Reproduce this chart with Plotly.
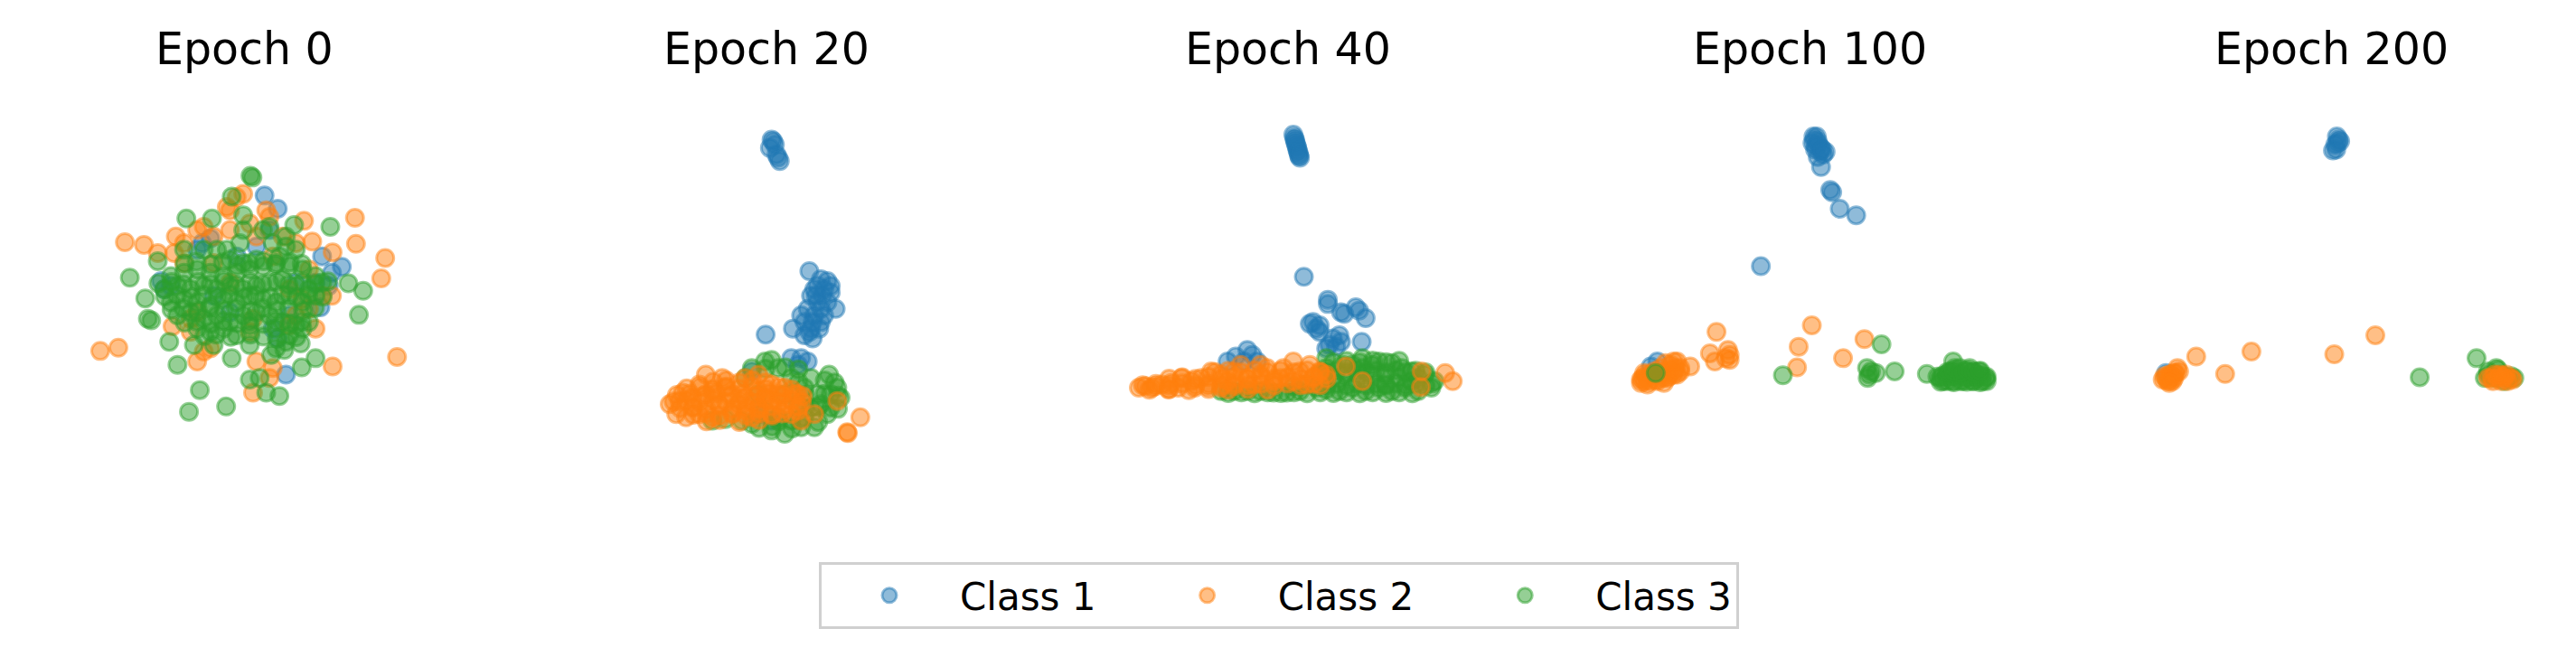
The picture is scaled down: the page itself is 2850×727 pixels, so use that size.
import plotly.graph_objects as go

epochs = [0, 20, 40, 100, 200]
class_names = ["Class 1", "Class 2", "Class 3"]
class_rgb = ["31,119,180", "255,127,14", "44,160,44"]

# 2-D embedding of the samples at each epoch, (x, y) with y pointing down

# ---- Epoch 0 ----
e0_c1 = [(805, 595), (845, 635), (640, 725), (615, 740), (1040, 812), (1010, 830), (490, 855), (500, 880),
         (975, 935), (870, 1140), (845, 1030), (880, 960), (600, 760), (980, 780), (720, 780), (780, 750),
         (520, 870), (650, 900), (820, 700), (900, 860), (960, 860), (700, 950), (1000, 870), (830, 1000)]
e0_c2 = [(380, 737), (438, 745), (305, 1068), (360, 1058), (1080, 663), (1083, 742), (1172, 785), (1160, 847),
         (1208, 1086), (1012, 1115), (950, 735), (1012, 768), (925, 672), (535, 720), (770, 1195), (830, 1120),
         (620, 1070), (525, 993), (600, 700), (740, 590), (690, 630), (810, 640), (960, 1000), (1010, 900),
         (920, 910), (580, 970), (770, 970), (480, 770), (700, 860), (880, 880), (650, 800), (560, 800),
         (830, 780), (760, 1010), (600, 950), (880, 990), (820, 660), (720, 600), (700, 640), (980, 900),
         (940, 820), (650, 720), (700, 700), (760, 680), (780, 720), (860, 720), (900, 740), (620, 690),
         (560, 740), (530, 770), (900, 960), (940, 940), (580, 1010), (640, 1060), (600, 1100), (780, 1100),
         (820, 1150)]
e0_c3 = [(762, 535), (768, 540), (705, 598), (567, 665), (645, 665), (740, 655), (895, 685), (1005, 690),
         (395, 845), (442, 908), (450, 970), (460, 975), (1092, 958), (1105, 885), (1060, 862), (515, 1040),
         (540, 1110), (608, 1187), (575, 1253), (688, 1237), (760, 1155), (790, 1150), (810, 1195), (850, 1205),
         (918, 1118), (960, 1090), (825, 1080), (705, 1090), (760, 1050), (650, 1050), (590, 1050), (915, 1045),
         (865, 1065), (480, 795), (800, 700), (820, 690), (870, 720), (900, 760), (560, 760), (620, 760),
         (660, 760), (730, 740), (740, 700),
         (520, 840), (560, 830), (600, 820), (640, 830), (680, 840), (720, 830), (760, 820), (800, 810),
         (840, 800), (880, 810), (920, 820), (960, 840),
         (500, 880), (540, 870), (580, 880), (620, 870), (660, 880), (700, 870), (740, 880), (780, 870),
         (820, 860), (860, 850), (900, 870), (940, 880), (980, 860),
         (520, 920), (560, 910), (600, 920), (640, 930), (680, 910), (720, 920), (760, 900), (800, 910),
         (840, 920), (880, 900), (920, 920), (960, 900),
         (540, 960), (580, 950), (620, 970), (660, 960), (700, 980), (740, 960), (780, 950), (820, 960),
         (860, 980), (900, 990), (940, 980),
         (600, 1000), (640, 1010), (680, 1000), (720, 1020), (760, 990), (840, 1000), (880, 1020), (920, 1000),
         (870, 1040), (840, 1060), (700, 790), (740, 800), (690, 760), (780, 790), (850, 780), (870, 750),
         (830, 740),
         (562, 802), (598, 796), (642, 805), (678, 798), (722, 808), (758, 801), (802, 795), (838, 806),
         (882, 798), (918, 803),
         (482, 862), (522, 858), (558, 865), (603, 857), (641, 864), (682, 856), (718, 866), (762, 858),
         (798, 864), (842, 857), (878, 866), (922, 858), (958, 864), (998, 856),
         (502, 902), (538, 898), (582, 905), (618, 897), (662, 904), (698, 896), (742, 905), (778, 898),
         (822, 904), (858, 897), (902, 905), (938, 898), (982, 903),
         (522, 942), (558, 938), (602, 945), (638, 937), (682, 944), (718, 938), (762, 946), (798, 937),
         (842, 944), (878, 938), (922, 945), (958, 937),
         (562, 982), (598, 978), (642, 985), (678, 977), (722, 984), (758, 978), (802, 986), (838, 977),
         (882, 984), (918, 978),
         (622, 1022), (658, 1018), (702, 1025), (762, 1018), (802, 1024), (842, 1030), (902, 1026)]

# ---- Epoch 20 ----
e20_c1 = [(780, 425), (790, 440), (775, 450), (800, 480), (805, 490), (795, 470), (785, 430),
          (895, 825), (930, 850), (950, 855), (910, 880), (900, 900), (935, 900), (960, 890), (920, 920),
          (975, 940), (890, 940), (910, 960), (940, 960), (880, 980), (900, 1000), (845, 1000), (880, 1020),
          (905, 1030), (762, 1018), (930, 980), (950, 920), (870, 960), (960, 870),
          (920, 870), (940, 880), (915, 900), (930, 940), (905, 980), (895, 1010), (925, 1000),
          (840, 1090), (870, 1090), (890, 1100), (860, 1110), (720, 1130), (740, 1260), (780, 1280)]
e20_c2 = [(470, 1230), (490, 1260), (510, 1195), (540, 1210), (580, 1140), (630, 1150), (560, 1260), (600, 1270),
          (540, 1240), (600, 1190), (620, 1230), (660, 1200), (660, 1260), (700, 1150), (700, 1210), (700, 1250),
          (740, 1140), (740, 1190), (740, 1240), (780, 1170), (780, 1220), (780, 1260), (820, 1180), (820, 1230),
          (860, 1200), (860, 1250), (870, 1280), (840, 1260), (580, 1200), (500, 1220), (640, 1180), (680, 1230),
          (720, 1270), (760, 1210), (800, 1200), (520, 1270), (560, 1170), (910, 1260), (980, 1220), (875, 1205),
          (1050, 1270), (1012, 1318), (1010, 1315),
          (522, 1182), (562, 1178), (602, 1184), (642, 1176), (682, 1183), (722, 1177), (762, 1184), (802, 1178),
          (842, 1185), (492, 1202), (532, 1198), (572, 1205), (612, 1197), (652, 1204), (692, 1198), (732, 1205),
          (772, 1197), (812, 1204), (852, 1198), (482, 1222), (522, 1218), (562, 1225), (602, 1217), (642, 1224),
          (682, 1218), (722, 1225), (762, 1217), (802, 1224), (842, 1218), (872, 1224), (502, 1242), (542, 1238),
          (582, 1245), (622, 1237), (662, 1244), (702, 1238), (742, 1245), (782, 1237), (822, 1244), (862, 1238),
          (542, 1262), (582, 1258), (622, 1265), (662, 1257), (702, 1264), (742, 1258), (782, 1265), (812, 1258),
          (602, 1162), (642, 1158), (682, 1164), (722, 1157), (762, 1163), (582, 1282), (622, 1278), (682, 1284),
          (742, 1278)]
e20_c3 = [(780, 1095), (760, 1100), (800, 1120), (720, 1120), (700, 1150), (955, 1140), (980, 1180), (990, 1210),
          (950, 1260), (910, 1300), (870, 1300), (820, 1320), (780, 1310), (690, 1280), (640, 1275), (920, 1200),
          (960, 1200), (880, 1180), (840, 1150), (900, 1150), (860, 1230), (900, 1240), (930, 1230), (840, 1280),
          (800, 1270), (760, 1250), (740, 1200), (820, 1200), (880, 1270), (960, 1240), (600, 1280), (720, 1290),
          (762, 1122), (822, 1118), (862, 1124), (862, 1162), (942, 1158), (972, 1164), (882, 1202), (942, 1198),
          (982, 1204), (882, 1242), (922, 1238), (982, 1244), (802, 1282), (862, 1278), (922, 1284), (742, 1302),
          (782, 1298), (842, 1304)]

# ---- Epoch 40 ----
e40_c1 = [(800, 410), (803, 420), (806, 432), (810, 445), (813, 458), (817, 470), (820, 480), (805, 425),
          (812, 450), (808, 438), (815, 462), (818, 475),
          (832, 842), (905, 912), (905, 925), (945, 950), (955, 955), (990, 935), (1000, 945),
          (1020, 968), (860, 980), (880, 990), (850, 985), (870, 1000), (880, 1010), (920, 1030), (940, 1020),
          (945, 1040), (910, 1050), (1008, 1040), (900, 1060), (930, 1055), (625, 1085), (660, 1065), (675, 1080),
          (690, 1100), (600, 1100), (650, 1100)]
e40_c2 = [(330, 1180), (350, 1175), (370, 1180), (400, 1170), (430, 1165), (460, 1150), (450, 1180), (490, 1160),
          (520, 1150), (550, 1130), (540, 1175), (580, 1140), (600, 1160), (620, 1130), (640, 1110), (660, 1150),
          (700, 1140), (720, 1120), (740, 1160), (770, 1120), (800, 1100), (820, 1130), (850, 1110), (860, 1150),
          (880, 1130), (900, 1140), (760, 1150), (680, 1170), (620, 1175), (580, 1180), (500, 1180), (420, 1185),
          (380, 1175), (800, 1160), (840, 1170), (700, 1110),
          (342, 1172), (382, 1168), (422, 1173), (462, 1167), (502, 1172), (542, 1168), (582, 1173), (622, 1167),
          (662, 1172), (702, 1168), (742, 1173), (782, 1167), (822, 1172), (862, 1168), (882, 1172),
          (422, 1152), (462, 1148), (502, 1153), (542, 1147), (582, 1152), (622, 1148), (662, 1153), (702, 1147),
          (742, 1152), (782, 1148), (822, 1153), (862, 1147), (902, 1152),
          (562, 1132), (602, 1128), (642, 1133), (682, 1127), (722, 1132), (762, 1128), (802, 1133), (842, 1127),
          (882, 1132), (362, 1186), (422, 1184), (482, 1187), (542, 1184), (602, 1186), (662, 1184), (722, 1186),
          (960, 1115), (1010, 1160), (1190, 1130), (1188, 1178), (1262, 1135), (1285, 1160)]
e40_c3 = [(900, 1090), (950, 1110), (1010, 1090), (1060, 1100), (1100, 1105), (1130, 1120), (1160, 1130),
          (1200, 1140), (1230, 1160), (1220, 1180), (1180, 1190), (1140, 1180), (1100, 1190), (1060, 1180),
          (1020, 1190), (980, 1180), (940, 1190), (900, 1185), (870, 1180), (920, 1150), (960, 1140), (1000, 1140),
          (1040, 1140), (1080, 1140), (1120, 1150), (1160, 1160), (880, 1140), (900, 1120), (1040, 1110),
          (1080, 1170), (820, 1190), (780, 1195), (740, 1195), (700, 1190), (660, 1190), (620, 1190), (580, 1190),
          (840, 1170), (800, 1175), (1010, 1120), (980, 1110), (1180, 1150),
          (902, 1172), (932, 1168), (962, 1173), (992, 1167), (1022, 1172), (1052, 1168), (1082, 1173),
          (1112, 1167), (1142, 1172), (1172, 1168), (1202, 1173), (1222, 1167),
          (902, 1132), (932, 1128), (962, 1133), (992, 1127), (1022, 1132), (1052, 1128), (1082, 1133),
          (1112, 1127), (1142, 1132), (1172, 1128), (1202, 1133),
          (922, 1102), (962, 1098), (1002, 1103), (1042, 1097), (1082, 1102), (1122, 1098),
          (602, 1196), (642, 1194), (682, 1197), (722, 1194), (762, 1196), (802, 1194), (842, 1197), (882, 1194),
          (922, 1196), (962, 1194), (1002, 1197), (1042, 1194), (1082, 1196), (1122, 1194), (1162, 1197)]

# ---- Epoch 100 ----
e100_c1 = [(815, 415), (825, 415), (812, 435), (830, 440), (820, 455), (838, 450), (845, 470), (828, 478),
           (852, 462), (818, 425), (828, 430), (822, 445), (835, 460), (842, 455),
           (838, 508), (866, 578), (872, 585), (895, 635), (945, 655), (655, 810), (340, 1100), (320, 1115)]
e100_c2 = [(290, 1155), (310, 1150), (330, 1145), (350, 1140), (370, 1135), (390, 1130), (310, 1170), (340, 1160),
           (370, 1150), (400, 1140), (300, 1135), (350, 1120), (380, 1110), (400, 1100), (330, 1130), (410, 1120),
           (360, 1165), (295, 1150), (305, 1140), (320, 1140), (340, 1135), (360, 1130), (380, 1125), (395, 1120),
           (315, 1160), (335, 1155), (355, 1150), (375, 1145), (390, 1140), (410, 1130), (300, 1160), (290, 1165),
           (365, 1105), (390, 1100),
           (440, 1115), (500, 1075), (520, 1010), (515, 1100), (555, 1065), (560, 1080), (560, 1095),
           (548, 1090), (770, 1055), (810, 990), (765, 1118), (905, 1090), (970, 1032)]
e100_c3 = [(335, 1135), (722, 1142), (1022, 1048), (978, 1120), (985, 1140), (990, 1130), (1005, 1135), (980, 1150),
           (1062, 1130), (1160, 1138), (1200, 1150), (1220, 1140), (1240, 1100), (1245, 1120), (1260, 1140),
           (1280, 1130), (1300, 1130), (1320, 1140), (1340, 1150), (1330, 1160), (1300, 1160), (1270, 1160),
           (1240, 1160), (1210, 1160), (1280, 1150), (1310, 1150), (1230, 1130), (1260, 1120), (1290, 1120),
           (1320, 1130), (1192, 1146), (1207, 1144), (1222, 1147), (1237, 1144), (1252, 1146), (1267, 1144),
           (1282, 1147), (1297, 1144), (1312, 1146), (1327, 1144), (1342, 1147), (1202, 1162), (1222, 1160),
           (1242, 1163), (1262, 1160), (1282, 1162), (1302, 1160), (1322, 1163), (1342, 1160), (1222, 1132),
           (1242, 1128), (1262, 1133), (1282, 1127), (1302, 1132), (1322, 1128)]

# ---- Epoch 200 ----
e200_c1 = [(840, 415), (845, 425), (842, 435), (835, 440), (828, 458), (838, 455), (850, 430), (320, 1135)]
e200_c2 = [(320, 1150), (330, 1155), (340, 1145), (350, 1135), (355, 1120), (335, 1140), (325, 1160), (345, 1150),
           (310, 1155), (315, 1145), (330, 1140), (345, 1135), (360, 1130), (340, 1160), (330, 1165),
           (412, 1085), (500, 1138), (580, 1070), (832, 1078), (957, 1020),
           (1310, 1150), (1330, 1150), (1350, 1150), (1370, 1150), (1320, 1140), (1345, 1145), (1360, 1160),
           (1300, 1150), (1315, 1160), (1340, 1160), (1355, 1140), (1375, 1155), (1335, 1140)]
e200_c3 = [(1092, 1148), (1265, 1090), (1325, 1120), (1300, 1140), (1340, 1140), (1350, 1160), (1360, 1150),
           (1320, 1150), (1290, 1150), (1300, 1130), (1330, 1125), (1370, 1145), (1380, 1150)]

panels = [
    (e0_c1, e0_c2, e0_c3),
    (e20_c1, e20_c2, e20_c3),
    (e40_c1, e40_c2, e40_c3),
    (e100_c1, e100_c2, e100_c3),
    (e200_c1, e200_c2, e200_c3),
]
draw_order = [[0, 1, 2], [0, 2, 1], [0, 2, 1], [0, 1, 2], [0, 2, 1]]

W, H = 2850, 727
OFF = 8  # page offset of the plot div, compensated below
S = 2.75  # data units per pixel
title_x = [270, 848, 1425, 2002, 2579]
# non-breaking spaces pad the first two legend entries so the entries are evenly spaced
legend_pad = ["\u00a0\u00a0\u00a0", "\u00a0\u00a0\u00a0", ""]

fig = go.Figure()
for i, ep in enumerate(epochs):
    ax = "" if i == 0 else str(i + 1)
    for c in draw_order[i]:
        pts = panels[i][c]
        rgba = f"rgba({class_rgb[c]},0.5)"
        fig.add_trace(go.Scatter(
            x=[p[0] for p in pts], y=[p[1] for p in pts],
            mode="markers", xaxis="x" + ax, yaxis="y" + ax,
            name=class_names[c] + legend_pad[c], legendgroup=class_names[c],
            showlegend=(i == 0), legendrank=c + 1,
            marker=dict(size=19, color=rgba, line=dict(width=3, color=rgba)),
        ))
    fig.layout["xaxis" + ax] = dict(domain=[i / 5, (i + 1) / 5], range=[OFF * S, 1567.5 + OFF * S],
                                    visible=False, anchor="y" + ax)
    fig.layout["yaxis" + ax] = dict(domain=[1 - 560 / H, 1], range=[1540 + OFF * S, OFF * S],
                                    visible=False, anchor="x" + ax)
    fig.add_annotation(text=f"Epoch {ep}", x=(title_x[i] - OFF) / W, y=1 - 46 / H,
                       xref="paper", yref="paper", xanchor="center", yanchor="middle",
                       showarrow=False, font=dict(size=49, color="black"))

fig.update_layout(
    width=W, height=H,
    margin=dict(l=0, r=0, t=0, b=0),
    paper_bgcolor="white", plot_bgcolor="white",
    font=dict(family="DejaVu Sans", color="black"),
    legend=dict(orientation="h", x=(1415 - OFF) / W, xanchor="center", y=1 - 651 / H, yanchor="middle",
                bordercolor="#d0d0d0", borderwidth=3, bgcolor="white",
                font=dict(size=42), itemwidth=146),
)

fig.write_html("out.html")
